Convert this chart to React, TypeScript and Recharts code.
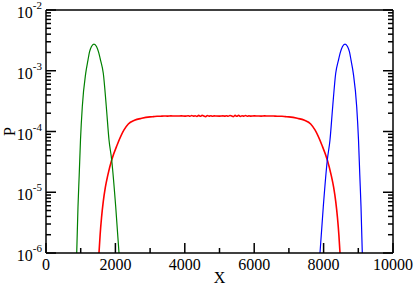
import { Line, LineChart, XAxis, YAxis } from 'recharts'

const FONT = '"Liberation Serif", "Times New Roman", serif'

const greenX = [885, 922, 957, 994, 1046, 1144, 1210, 1254, 1311, 1383, 1455, 1513, 1571, 1651, 1738, 1816, 1893, 2009, 2104]
const greenP = [1e-6, 5.78e-6, 1.92e-5, 7.24e-5, 2.56e-4, 9.08e-4, 1.5e-3, 2.04e-3, 2.51e-3, 2.75e-3, 2.51e-3, 2.04e-3, 1.5e-3, 9.08e-4, 2.56e-4, 7.24e-5, 3.4e-5, 5.78e-6, 1e-6]

const blueX = [7896, 7991, 8107, 8184, 8262, 8349, 8429, 8487, 8545, 8617, 8689, 8746, 8790, 8856, 8954, 9006, 9043, 9078, 9115]
const blueP = [1e-6, 5.78e-6, 3.4e-5, 7.24e-5, 2.56e-4, 9.08e-4, 1.5e-3, 2.04e-3, 2.51e-3, 2.75e-3, 2.51e-3, 2.04e-3, 1.5e-3, 9.08e-4, 2.56e-4, 7.24e-5, 1.92e-5, 5.78e-6, 1e-6]

const redX = [
  1527, 1560, 1600, 1650, 1710, 1780, 1893, 2050, 2248, 2372, 2550, 2758, 3000, 3100, 3200, 3300, 3400, 3500,
  3600, 3700, 3800, 3900, 4000, 4100, 4150, 4200, 4250, 4300, 4350, 4400, 4450, 4500, 4550, 4600,
  4650, 4700, 4750, 4800, 4850, 4900, 5000, 5100, 5150, 5200, 5250, 5300, 5350, 5400, 5450, 5500,
  5550, 5600, 5650, 5700, 5750, 5800, 5850, 5900, 6000, 6100, 6200, 6300, 6400, 6500, 6600, 6700,
  6800, 6900, 7000, 7242, 7450, 7628, 7752, 7950, 8107, 8220, 8290, 8350, 8400, 8440, 8473,
]
const redP = [
  1e-6, 2e-6, 3.8e-6, 7e-6, 1.2e-5, 1.9e-5, 3.4e-5, 6.0e-5, 1.06e-4, 1.33e-4, 1.53e-4, 1.65e-4, 1.74e-4, 1.76e-4, 1.78e-4, 1.785e-4, 1.8e-4, 1.79e-4,
  1.81e-4, 1.795e-4, 1.8e-4, 1.81e-4, 1.79e-4, 1.82e-4, 1.78e-4, 1.83e-4, 1.79e-4, 1.82e-4, 1.77e-4, 1.84e-4, 1.78e-4, 1.85e-4, 1.8e-4, 1.76e-4,
  1.83e-4, 1.79e-4, 1.82e-4, 1.78e-4, 1.81e-4, 1.8e-4, 1.79e-4, 1.81e-4, 1.79e-4, 1.82e-4, 1.78e-4, 1.83e-4, 1.8e-4, 1.76e-4, 1.84e-4, 1.78e-4,
  1.85e-4, 1.77e-4, 1.82e-4, 1.79e-4, 1.83e-4, 1.78e-4, 1.81e-4, 1.79e-4, 1.81e-4, 1.8e-4, 1.79e-4, 1.81e-4, 1.795e-4, 1.8e-4, 1.79e-4, 1.785e-4,
  1.78e-4, 1.76e-4, 1.74e-4, 1.65e-4, 1.53e-4, 1.33e-4, 1.06e-4, 6.0e-5, 3.4e-5, 1.9e-5, 1.2e-5, 7e-6, 3.8e-6, 2e-6, 1e-6,
]

const xTicks = [0, 1000, 2000, 3000, 4000, 5000, 6000, 7000, 8000, 9000, 10000]
const decades = [-6, -5, -4, -3]
const yTicks = [
  ...decades.flatMap((d) => [1, 2, 3, 4, 5, 6, 7, 8, 9].map((k) => k * Math.pow(10, d))),
  1e-2,
]

const toRows = (xs: number[], ps: number[]) => xs.map((x, i) => ({ x, p: ps[i] }))
const green = toRows(greenX, greenP)
const blue = toRows(blueX, blueP)
const red = toRows(redX, redP)

const isMajorY = (v: number) => {
  const l = Math.log10(v)
  return Math.abs(l - Math.round(l)) < 1e-6
}

function XTick({ x, y, payload, top }: any) {
  const major = payload.value % 2000 === 0
  const len = major ? 10 : 5
  if (top) {
    return <line x1={x} x2={x} y1={y} y2={y + len} stroke="#000" strokeWidth={1.5} />
  }
  return (
    <g>
      <line x1={x} x2={x} y1={y} y2={y - len} stroke="#000" strokeWidth={1.5} />
      {major && (
        <text x={x} y={y + 17} textAnchor="middle" fontFamily={FONT} fontSize={16} fill="#000">
          {payload.value}
        </text>
      )}
    </g>
  )
}

function YTick({ x, y, payload, right }: any) {
  const major = isMajorY(payload.value)
  const len = major ? 10 : 5
  if (right) {
    return <line x1={x} x2={x - len} y1={y} y2={y} stroke="#000" strokeWidth={1.5} />
  }
  const exp = Math.round(Math.log10(payload.value))
  return (
    <g>
      <line x1={x} x2={x + len} y1={y} y2={y} stroke="#000" strokeWidth={1.5} />
      {major && (
        <text x={x - 4} y={y + 8} textAnchor="end" fontFamily={FONT} fontSize={16} fill="#000">
          <tspan>10</tspan>
          <tspan dy={-9} fontSize={11}>
            {String(exp)}
          </tspan>
        </text>
      )}
    </g>
  )
}

export default function App() {
  const axisLine = { stroke: '#000', strokeWidth: 1.5 }
  return (
    <div style={{ position: 'absolute', left: 0, top: 0, width: 415, height: 285, background: '#fff' }}>
      <LineChart width={415} height={285} margin={{ top: 0, right: 0, bottom: 0, left: 0 }}>
        <XAxis
          dataKey="x"
          type="number"
          domain={[0, 10000]}
          ticks={xTicks}
          interval={0}
          height={32}
          tickSize={0}
          tickMargin={0}
          tickLine={false}
          axisLine={axisLine}
          allowDataOverflow
          tick={(props: any) => <XTick {...props} />}
          label={{
            content: () => (
              <text x={219.5} y={283} textAnchor="middle" fontFamily={FONT} fontSize={16} fill="#000">
                X
              </text>
            ),
          }}
        />
        <XAxis
          xAxisId="top"
          orientation="top"
          type="number"
          domain={[0, 10000]}
          ticks={xTicks}
          interval={0}
          height={10}
          tickSize={0}
          tickMargin={0}
          tickLine={false}
          axisLine={axisLine}
          allowDataOverflow
          tick={(props: any) => <XTick {...props} top />}
        />
        <YAxis
          type="number"
          scale="log"
          domain={[1e-6, 1e-2]}
          ticks={yTicks}
          interval={0}
          width={46}
          tickSize={0}
          tickMargin={0}
          tickLine={false}
          axisLine={axisLine}
          allowDataOverflow
          tick={(props: any) => <YTick {...props} />}
          label={{
            content: () => (
              <text
                x={15}
                y={131.5}
                transform="rotate(-90 15 131.5)"
                textAnchor="middle"
                fontFamily={FONT}
                fontSize={16}
                fill="#000"
              >
                P
              </text>
            ),
          }}
        />
        <YAxis
          yAxisId="right"
          orientation="right"
          type="number"
          scale="log"
          domain={[1e-6, 1e-2]}
          ticks={yTicks}
          interval={0}
          width={22}
          tickSize={0}
          tickMargin={0}
          tickLine={false}
          axisLine={axisLine}
          allowDataOverflow
          tick={(props: any) => <YTick {...props} right />}
        />
        <Line data={red} dataKey="p" type="monotone" stroke="#ff0000" strokeWidth={1.6} dot={false} isAnimationActive={false} />
        <Line data={green} dataKey="p" type="monotone" stroke="#008000" strokeWidth={1.2} dot={false} isAnimationActive={false} />
        <Line data={blue} dataKey="p" type="monotone" stroke="#0000ff" strokeWidth={1.2} dot={false} isAnimationActive={false} />
      </LineChart>
    </div>
  )
}
